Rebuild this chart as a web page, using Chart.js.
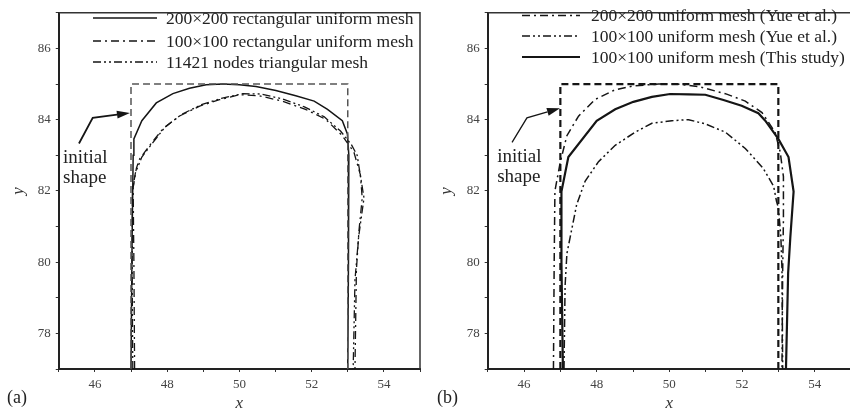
<!DOCTYPE html>
<html>
<head>
<meta charset="utf-8">
<script src="https://cdn.jsdelivr.net/npm/chart.js@4.4.0/dist/chart.umd.min.js"></script>
<style>
  html, body { margin: 0; padding: 0; background: #fff; }
  #wrap { position: relative; width: 850px; height: 414px; overflow: hidden; }
  canvas { position: absolute; top: 0; }
  #ca { left: 0; }
  #cb { left: 425px; }
</style>
</head>
<body>
<div id="wrap">
  <canvas id="ca" width="425" height="414"></canvas>
  <canvas id="cb" width="431" height="414"></canvas>
</div>
<script>
// axis ticks
const xTicks = [46, 48, 50, 52, 54];
const yTicks = [78, 80, 82, 84, 86];

// initial shape (dashed rectangle)
const shapeX = [47, 47, 53, 53];
const shapeY = [77, 85, 85, 77];

// panel (a)
const aLabels = ['200×200 rectangular uniform mesh', '100×100 rectangular uniform mesh', '11421 nodes triangular mesh'];
const aFineX = [47.0, 47.03, 47.06, 47.08, 47.3, 47.7, 48.16, 48.62, 49.08, 49.54, 50.0, 50.46, 51.01, 51.56, 52.07, 52.44, 52.85, 52.99, 53.03, 53.02, 53.0];
const aFineY = [77, 80.6, 83.0, 83.46, 83.97, 84.47, 84.73, 84.88, 84.98, 85.0, 84.98, 84.93, 84.82, 84.67, 84.52, 84.29, 83.97, 83.6, 83.0, 80.0, 77];
const aRectX = [47.1, 47.08, 47.06, 47.15, 47.24, 47.52, 47.88, 48.34, 48.9, 49.45, 50.0, 50.55, 51.19, 51.83, 52.39, 52.85, 53.17, 53.35, 53.4, 53.31, 53.24, 53.2];
const aRectY = [77, 80.0, 82.09, 82.64, 82.9, 83.28, 83.74, 84.1, 84.38, 84.56, 84.7, 84.67, 84.52, 84.29, 84.01, 83.55, 83.09, 82.45, 81.8, 80.88, 79.78, 77];
const aTriX = [47.05, 47.03, 47.04, 47.12, 47.3, 47.6, 47.95, 48.4, 48.95, 49.5, 50.1, 50.6, 51.2, 51.8, 52.35, 52.8, 53.1, 53.26, 53.45, 53.3, 53.2, 53.15];
const aTriY = [77, 80.0, 82.0, 82.5, 82.95, 83.35, 83.8, 84.15, 84.42, 84.6, 84.73, 84.72, 84.58, 84.36, 84.08, 83.68, 83.3, 83.0, 81.8, 80.7, 79.5, 77];

// panel (b)
const bLabels = ['200×200 uniform mesh (Yue et al.)', '100×100 uniform mesh (Yue et al.)', '100×100 uniform mesh (This study)'];
const bYueFineX = [46.81, 46.83, 46.85, 47.0, 47.18, 47.5, 47.96, 48.51, 49.03, 49.7, 50.2, 50.8, 51.54, 52.09, 52.55, 52.91, 53.05, 53.14, 53.14, 53.12, 53.1];
const bYueFineY = [77, 80.0, 82.0, 82.82, 83.55, 84.1, 84.57, 84.84, 84.95, 85.0, 85.0, 84.93, 84.73, 84.52, 84.2, 83.65, 83.1, 82.4, 81.2, 79.8, 77];
const bYueCoarseX = [47.1, 47.13, 47.18, 47.27, 47.45, 47.68, 48.05, 48.51, 49.06, 49.52, 50.07, 50.53, 50.99, 51.54, 52.09, 52.58, 52.87, 52.95, 53.0, 53.07, 53.1, 53.12];
const bYueCoarseY = [77, 79.33, 80.24, 80.7, 81.62, 82.27, 82.82, 83.28, 83.65, 83.9, 83.97, 84.0, 83.88, 83.65, 83.19, 82.64, 82.13, 81.71, 81.53, 80.7, 79.8, 77];
const bStudyX = [47.07, 47.03, 47.03, 47.22, 48.0, 48.51, 49.01, 49.52, 50.02, 50.53, 50.99, 51.49, 51.99, 52.45, 52.64, 53.0, 53.28, 53.42, 53.33, 53.27, 53.21];
const bStudyY = [77, 80.0, 81.98, 82.95, 83.97, 84.29, 84.5, 84.64, 84.72, 84.71, 84.7, 84.55, 84.39, 84.18, 83.97, 83.46, 82.95, 81.98, 80.7, 79.7, 77];

// annotation: arrow path and text, in data units
const aArrowX = [45.56, 45.94, 46.97];
const aArrowY = [83.33, 84.05, 84.19];
const bArrowX = [45.67, 46.08, 46.99];
const bArrowY = [83.36, 84.05, 84.32];

const SERIF = "'Liberation Serif', 'Times New Roman', serif";
Chart.defaults.font.family = SERIF;
Chart.defaults.color = '#333';

const DASHDOT = [8, 4, 2, 4];
const DASHDOT2 = [8, 3, 2, 3, 2, 3];
const INK = '#151515';

function pts(xs, ys) {
  return xs.map((x, i) => ({ x: x, y: ys[i] }));
}

function line(label, xs, ys, dash, width, color, legend) {
  return {
    label: label,
    data: pts(xs, ys),
    borderColor: color || INK,
    borderWidth: width,
    borderDash: dash,
    pointRadius: 0,
    fill: false,
    tension: 0,
    legend: legend
  };
}

// frame: thin top and right borders
const framePlugin = {
  id: 'frame',
  afterDatasetsDraw(chart) {
    const a = chart.chartArea, ctx = chart.ctx;
    ctx.save();
    ctx.strokeStyle = '#333';
    ctx.lineWidth = 1.5;
    ctx.beginPath();
    ctx.moveTo(a.left, a.top);
    ctx.lineTo(a.right, a.top);
    ctx.lineTo(a.right, a.bottom);
    ctx.stroke();
    ctx.restore();
  }
};

// legend drawn inside the plot area
const legendPlugin = {
  id: 'innerLegend',
  afterDraw(chart, args, o) {
    const ctx = chart.ctx, a = chart.chartArea;
    ctx.save();
    ctx.font = o.font;
    ctx.textBaseline = 'middle';
    ctx.fillStyle = '#222';
    chart.data.datasets.forEach(ds => {
      if (ds.legend == null) return;
      const y = o.rows[ds.legend];
      const x0 = a.left + o.lineStart;
      ctx.strokeStyle = ds.borderColor;
      ctx.lineWidth = ds.borderWidth;
      ctx.setLineDash(ds.borderDash || []);
      ctx.beginPath();
      ctx.moveTo(x0, y);
      ctx.lineTo(x0 + o.lineLen, y);
      ctx.stroke();
      ctx.fillText(ds.label, x0 + o.lineLen + o.gap, y + 1);
    });
    ctx.restore();
  }
};

// "initial shape" text with arrow, plus panel tag
const notePlugin = {
  id: 'note',
  afterDraw(chart, args, o) {
    const ctx = chart.ctx, sx = chart.scales.x, sy = chart.scales.y;
    ctx.save();
    const p = o.arrowX.map((x, i) => [sx.getPixelForValue(x), sy.getPixelForValue(o.arrowY[i])]);
    ctx.strokeStyle = INK;
    ctx.fillStyle = INK;
    ctx.lineWidth = o.arrowWidth;
    ctx.setLineDash([]);
    const n = p.length;
    const ang = Math.atan2(p[n - 1][1] - p[n - 2][1], p[n - 1][0] - p[n - 2][0]);
    const hl = 13, hw = 4;
    const bx = p[n - 1][0] - hl * Math.cos(ang), by = p[n - 1][1] - hl * Math.sin(ang);
    ctx.beginPath();
    ctx.moveTo(p[0][0], p[0][1]);
    for (let i = 1; i < n - 1; i++) ctx.lineTo(p[i][0], p[i][1]);
    ctx.lineTo(bx, by);
    ctx.stroke();
    ctx.beginPath();
    ctx.moveTo(p[n - 1][0], p[n - 1][1]);
    ctx.lineTo(bx + hw * Math.sin(ang), by - hw * Math.cos(ang));
    ctx.lineTo(bx - hw * Math.sin(ang), by + hw * Math.cos(ang));
    ctx.closePath();
    ctx.fill();

    ctx.font = '19px ' + SERIF;
    ctx.fillStyle = '#222';
    ctx.textBaseline = 'middle';
    const tx = sx.getPixelForValue(o.textX);
    ctx.fillText('initial', tx, sy.getPixelForValue(o.textY[0]));
    ctx.fillText('shape', tx, sy.getPixelForValue(o.textY[1]));

    ctx.font = '18px ' + SERIF;
    ctx.fillText(o.tag, o.tagX, 398);
    ctx.restore();
  }
};

function scales(yWidth, yTitlePad) {
  return {
    x: {
      type: 'linear', min: 45, max: 55,
      afterFit: s => { s.height = 45; },
      afterBuildTicks: s => { s.ticks = [45, 46, 47, 48, 49, 50, 51, 52, 53, 54, 55].map(v => ({ value: v })); },
      ticks: {
        autoSkip: false, maxRotation: 0, padding: 5,
        font: { size: 13 }, color: '#444',
        callback: v => xTicks.includes(v) ? String(v) : ''
      },
      grid: { drawOnChartArea: false, drawTicks: true, tickLength: 3, color: '#333' },
      border: { color: '#222', width: 2 },
      title: { display: true, text: 'x', font: { size: 17, style: 'italic' }, color: '#333', padding: { top: 0, bottom: 0 } }
    },
    y: {
      type: 'linear', min: 77, max: 87,
      afterFit: s => { s.width = yWidth; },
      afterBuildTicks: s => { s.ticks = [77, 78, 79, 80, 81, 82, 83, 84, 85, 86, 87].map(v => ({ value: v })); },
      ticks: {
        autoSkip: false, padding: 5,
        font: { size: 13 }, color: '#444',
        callback: v => yTicks.includes(v) ? String(v) : ''
      },
      grid: { drawOnChartArea: false, drawTicks: true, tickLength: 3, color: '#333' },
      border: { color: '#222', width: 2 },
      title: { display: true, text: 'y', font: { size: 17, style: 'italic' }, color: '#333', padding: { top: yTitlePad, bottom: 0 } }
    }
  };
}

new Chart(document.getElementById('ca'), {
  type: 'line',
  data: {
    datasets: [
      line('initial shape', shapeX, shapeY, [7, 4], 1.5, '#555', null),
      line(aLabels[0], aFineX, aFineY, [], 1.5, INK, 0),
      line(aLabels[1], aRectX, aRectY, DASHDOT, 1.3, INK, 1),
      line(aLabels[2], aTriX, aTriY, DASHDOT2, 1.3, INK, 2)
    ]
  },
  options: {
    responsive: false, animation: false, devicePixelRatio: 1,
    layout: { padding: { top: 5, right: 3, left: 0, bottom: 0 } },
    scales: scales(58.75, 8),
    plugins: {
      legend: { display: false },
      tooltip: { enabled: false },
      innerLegend: { font: '17.5px ' + SERIF, lineStart: 34.25, lineLen: 64, gap: 9, rows: [18, 41, 62] },
      note: { arrowX: aArrowX, arrowY: aArrowY, arrowWidth: 1.8, textX: 45.12, textY: [82.92, 82.37], tag: '(a)', tagX: 7 }
    }
  },
  plugins: [framePlugin, legendPlugin, notePlugin]
});

new Chart(document.getElementById('cb'), {
  type: 'line',
  data: {
    datasets: [
      line('initial shape', shapeX, shapeY, [7, 4], 2.2, INK, null),
      line(bLabels[0], bYueFineX, bYueFineY, DASHDOT, 1.5, INK, 0),
      line(bLabels[1], bYueCoarseX, bYueCoarseY, DASHDOT2, 1.5, INK, 1),
      line(bLabels[2], bStudyX, bStudyY, [], 2.2, INK, 2)
    ]
  },
  options: {
    responsive: false, animation: false, devicePixelRatio: 1,
    layout: { padding: { top: 6, right: 0, left: 0, bottom: 0 } },
    scales: scales(62.7, 11),
    plugins: {
      legend: { display: false },
      tooltip: { enabled: false },
      innerLegend: { font: '17.5px ' + SERIF, lineStart: 34.3, lineLen: 58, gap: 11, rows: [15.5, 36, 57] },
      note: { arrowX: bArrowX, arrowY: bArrowY, arrowWidth: 1.3, textX: 45.26, textY: [82.95, 82.4], tag: '(b)', tagX: 12 }
    }
  },
  plugins: [framePlugin, legendPlugin, notePlugin]
});
</script>
</body>
</html>
